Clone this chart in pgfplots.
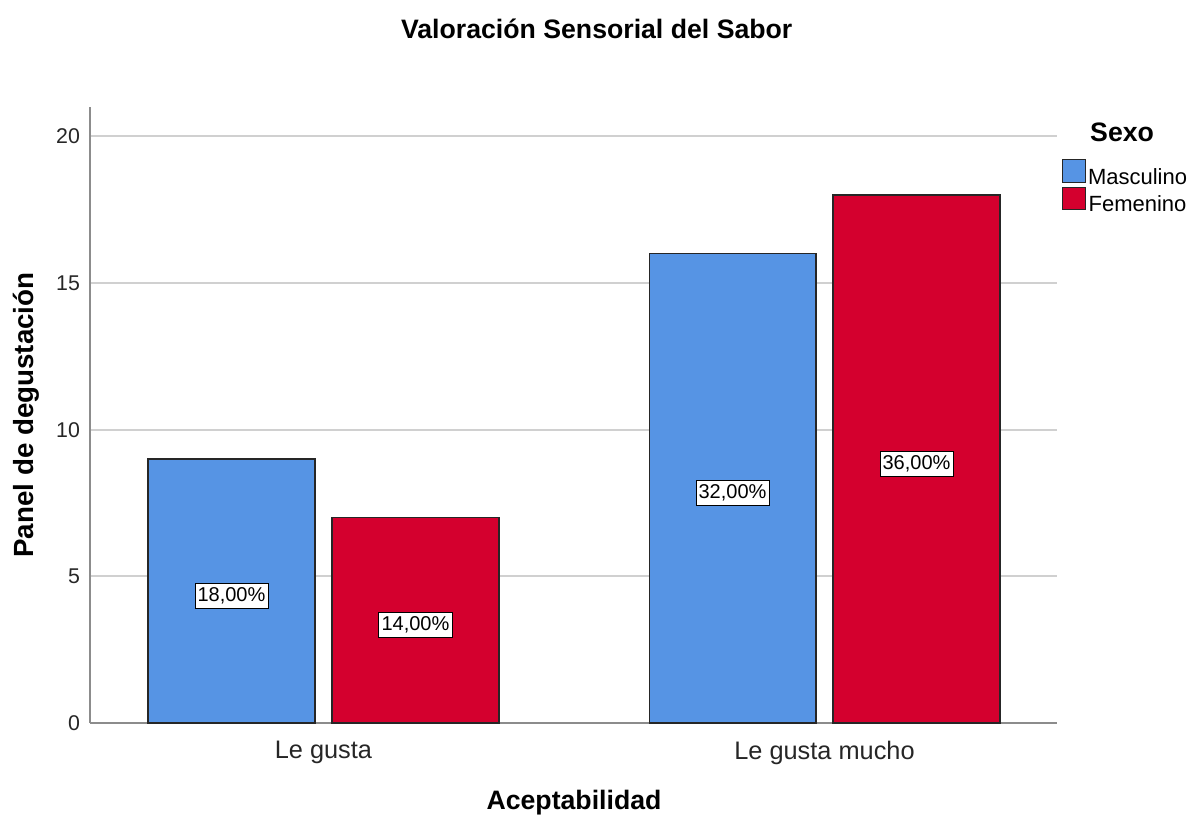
\documentclass[border=0pt]{standalone}
\usepackage{fontspec}
\setmainfont{Liberation Sans}
\usepackage{pgfplots}
\pgfplotsset{compat=1.18}
\definecolor{masc}{RGB}{86,148,228}
\definecolor{fem}{RGB}{212,0,46}
\definecolor{gridc}{RGB}{208,208,208}
\definecolor{axc}{RGB}{140,140,140}
\pgfplotsset{sqlegend/.style={legend image code/.code={\draw[##1] (0pt,-4pt) rectangle (17pt,13pt);}}}
\begin{document}
\begin{tikzpicture}
\path[use as bounding box] (-67.5pt,-72.75pt) rectangle (825pt,542.25pt);
\begin{axis}[
 scale only axis, width=725.25pt, height=462pt,
 xmin=-0.466, xmax=1.464, ymin=0, ymax=21,
 axis x line*=bottom, axis y line*=left,
 axis line style={draw=axc, line width=1.3pt},
 xtick={0,1}, xticklabels={Le gusta, Le gusta mucho},
 ytick={0,5,10,15,20},
 major tick length=0pt,
 ymajorgrids, grid style={draw=gridc, line width=1.4pt},
 /pgf/number format/assume math mode=true,
 yticklabel style={font=\fontsize{16}{19}\selectfont, text=black!85, xshift=-4pt},
 xticklabel style={font=\fontsize{19}{22}\selectfont, text=black!85, yshift=-10pt},
 title={\textbf{Valoración Sensorial del Sabor}},
 title style={font=\fontsize{20}{24}\selectfont, at={(axis description cs:0.524,1.125)}, anchor=center, yshift=-5.5pt},
 xlabel={\textbf{Aceptabilidad}},
 ylabel={\textbf{Panel de degustación}},
 every axis x label/.style={at={(axis description cs:0.5005,-0.13)}, anchor=center, font=\fontsize{20}{24}\selectfont},
 every axis y label/.style={at={(axis description cs:-0.0662,0.5)}, anchor=center, rotate=90, font=\fontsize{20.8}{24}\selectfont},
 legend style={at={(1.0052,0.9156)}, anchor=north west, draw=none, fill=none, inner sep=0pt,
   font=\fontsize{16.5}{19}\selectfont, row sep=-1pt, nodes={inner sep=1.5pt},
   /tikz/every even column/.append style={column sep=0pt}},
 clip=false,
]
\addplot[ybar, bar width=0.3333, bar shift=-0.1836, fill=masc, draw=black!85, line width=0.8pt, sqlegend]
  coordinates {(0,9) (1,16)};
\addlegendentry{Masculino}
\addplot[ybar, bar width=0.3333, bar shift=0.1836, fill=fem, draw=black!85, line width=0.8pt, sqlegend]
  coordinates {(0,7) (1,18)};
\addlegendentry{Femenino}
\addplot[forget plot, draw=none, nodes near coords, point meta=explicit symbolic,
  every node near coord/.style={anchor=center, fill=white, draw=black, line width=0.6pt, text=black,
  inner xsep=2pt, inner ysep=3pt, yshift=-3.5pt, font=\fontsize{15}{17}\selectfont}]
  coordinates {(-0.1836,4.5)[18,00\%] (0.1836,3.5)[14,00\%] (0.8164,8)[32,00\%] (1.1836,9)[36,00\%]};
\node[anchor=west, font=\bfseries\fontsize{20}{24}\selectfont, inner sep=0pt] at (axis description cs:1.0341,0.9594) {Sexo};
\end{axis}
\end{tikzpicture}
\end{document}
